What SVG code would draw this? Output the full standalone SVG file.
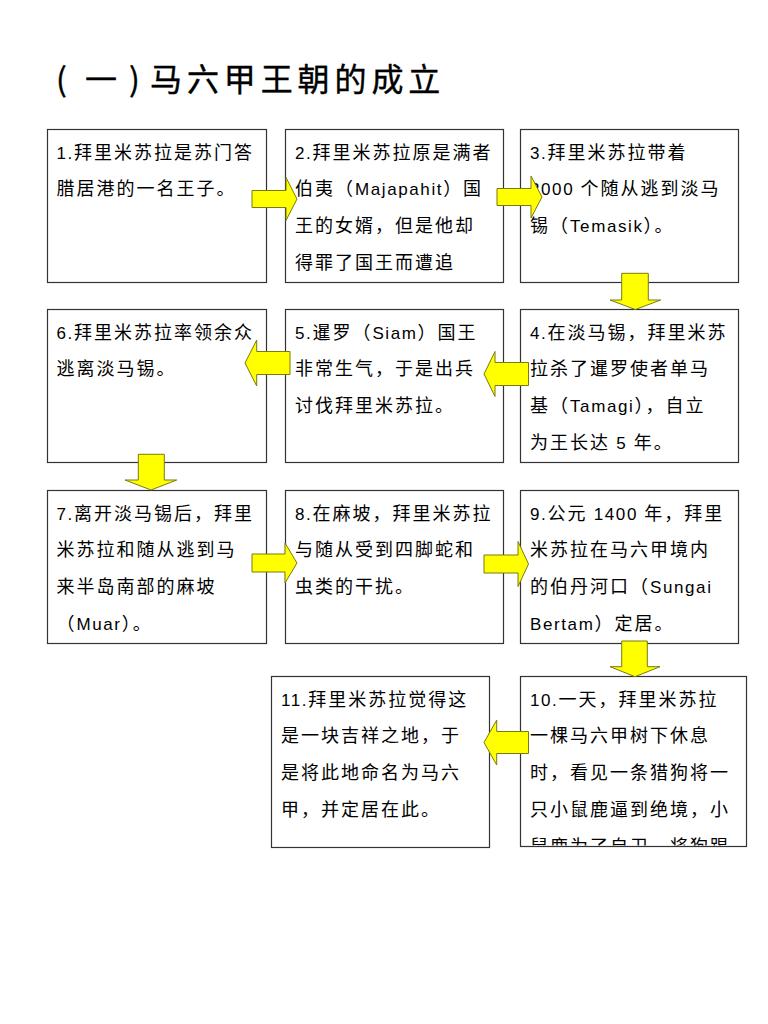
<svg xmlns="http://www.w3.org/2000/svg" width="768" height="1024" viewBox="0 0 768 1024">
<style>
.box{fill:#fff;stroke:#333;stroke-width:1.2}
.t{font-family:"Liberation Sans","Noto Sans CJK SC",sans-serif;font-size:18px;letter-spacing:2px;fill:#000}
.l{font-size:17px;letter-spacing:1.6px}
.arr{fill:#ffff00;stroke:#7a7a10;stroke-width:1}
.title{font-family:"Noto Sans CJK SC",sans-serif;font-size:32px;font-weight:400;fill:#000;stroke:#000;stroke-width:0.4}
</style>
<defs>
<clipPath id="clip10"><rect x="520.5" y="676.5" width="226" height="169"/></clipPath>
</defs>
<rect width="768" height="1024" fill="#fff"/>
<text class="title" x="56 85 129 150 186.9 223.8 260.7 297.6 334.5 371.4 408.3" y="91">(一)马六甲王朝的成立</text>

<g id="n1"><rect class="box" x="47.5" y="129.5" width="219" height="153"/>
<text class="t" x="56.5" y="158.5"><tspan class="l">1.</tspan>拜里米苏拉是苏门答</text>
<text class="t" x="56.5" y="195.2">腊居港的一名王子。</text></g>

<g id="n2"><rect class="box" x="285.5" y="129.5" width="218" height="153"/>
<text class="t" x="295" y="158.5"><tspan class="l">2.</tspan>拜里米苏拉原是满者</text>
<text class="t" x="295" y="195.2">伯夷（<tspan class="l">Majapahit</tspan>）国</text>
<text class="t" x="295" y="231.9">王的女婿，但是他却</text>
<text class="t" x="295" y="268.6">得罪了国王而遭追</text></g>

<g id="n3"><rect class="box" x="520.5" y="129.5" width="218" height="153"/>
<text class="t" x="530" y="158.5"><tspan class="l">3.</tspan>拜里米苏拉带着</text>
<text class="t" x="530" y="195.2"><tspan class="l">2000 </tspan>个随从逃到淡马</text>
<text class="t" x="530" y="231.9">锡（<tspan class="l">Temasik</tspan>）。</text></g>

<g id="n4"><rect class="box" x="520.5" y="309.5" width="218" height="153"/>
<text class="t" x="530" y="338.5"><tspan class="l">4.</tspan>在淡马锡，拜里米苏</text>
<text class="t" x="530" y="375.2">拉杀了暹罗使者单马</text>
<text class="t" x="530" y="411.9">基（<tspan class="l">Tamagi</tspan>），自立</text>
<text class="t" x="530" y="448.6">为王长达<tspan class="l"> 5 </tspan>年。</text></g>

<g id="n5"><rect class="box" x="285.5" y="309.5" width="218" height="153"/>
<text class="t" x="295" y="338.5"><tspan class="l">5.</tspan>暹罗（<tspan class="l">Siam</tspan>）国王</text>
<text class="t" x="295" y="375.2">非常生气，于是出兵</text>
<text class="t" x="295" y="411.9">讨伐拜里米苏拉。</text></g>

<g id="n6"><rect class="box" x="47.5" y="309.5" width="219" height="153"/>
<text class="t" x="56.5" y="338.5"><tspan class="l">6.</tspan>拜里米苏拉率领余众</text>
<text class="t" x="56.5" y="375.2">逃离淡马锡。</text></g>

<g id="n7"><rect class="box" x="47.5" y="490.5" width="219" height="153"/>
<text class="t" x="56.5" y="519.7"><tspan class="l">7.</tspan>离开淡马锡后，拜里</text>
<text class="t" x="56.5" y="556.4">米苏拉和随从逃到马</text>
<text class="t" x="56.5" y="593.1">来半岛南部的麻坡</text>
<text class="t" x="56.5" y="629.8">（<tspan class="l">Muar</tspan>）。</text></g>

<g id="n8"><rect class="box" x="285.5" y="490.5" width="218" height="153"/>
<text class="t" x="295" y="519.7"><tspan class="l">8.</tspan>在麻坡，拜里米苏拉</text>
<text class="t" x="295" y="556.4">与随从受到四脚蛇和</text>
<text class="t" x="295" y="593.1">虫类的干扰。</text></g>

<g id="n9"><rect class="box" x="520.5" y="490.5" width="218" height="153"/>
<text class="t" x="530" y="519.7"><tspan class="l">9.</tspan>公元<tspan class="l"> 1400 </tspan>年，拜里</text>
<text class="t" x="530" y="556.4">米苏拉在马六甲境内</text>
<text class="t" x="530" y="593.1">的伯丹河口（<tspan class="l">Sungai</tspan></text>
<text class="t" x="530" y="629.8"><tspan class="l">Bertam</tspan>）定居。</text></g>

<g id="n10"><rect class="box" x="520.5" y="676.5" width="226" height="170"/>
<g clip-path="url(#clip10)">
<text class="t" x="530" y="705.7"><tspan class="l">10.</tspan>一天，拜里米苏拉</text>
<text class="t" x="530" y="742.4">一棵马六甲树下休息</text>
<text class="t" x="530" y="779.1">时，看见一条猎狗将一</text>
<text class="t" x="530" y="815.8">只小鼠鹿逼到绝境，小</text>
<text class="t" x="530" y="852.5">鼠鹿为了自卫，将狗踢</text>
</g></g>

<g id="n11"><rect class="box" x="271.5" y="676.5" width="218" height="171"/>
<text class="t" x="281" y="705.7"><tspan class="l">11.</tspan>拜里米苏拉觉得这</text>
<text class="t" x="281" y="742.4">是一块吉祥之地，于</text>
<text class="t" x="281" y="779.1">是将此地命名为马六</text>
<text class="t" x="281" y="815.8">甲，并定居在此。</text></g>

<g id="connectors">
<polygon class="arr" points="252,190.5 286,190.5 286,177.5 297,199 286,220.5 286,207.5 252,207.5"/>
<polygon class="arr" points="497,188.5 531,188.5 531,176 542,197 531,218 531,205.5 497,205.5"/>
<polygon class="arr" points="621.7,273.3 648.3,273.3 648.3,300 660.7,300 635.3,309.5 610,300 621.7,300"/>
<polygon class="arr" points="528.5,362.5 495,362.5 495,351.5 484,374 495,396.5 495,385.5 528.5,385.5"/>
<polygon class="arr" points="290,351.5 256.7,351.5 256.7,340 245,363 256.7,386 256.7,374.5 290,374.5"/>
<polygon class="arr" points="138.3,454.3 164.3,454.3 164.3,480 176.7,480 151,490 125,480 138.3,480"/>
<polygon class="arr" points="252,554 285,554 285,543 297,563 285,583 285,572 252,572"/>
<polygon class="arr" points="484,555 518,555 518,541.5 528.5,564 518,586.5 518,573 484,573"/>
<polygon class="arr" points="621.7,641 647.3,641 647.3,666.7 660,666.7 635,676.7 610,666.7 621.7,666.7"/>
<polygon class="arr" points="528.5,731.5 496.7,731.5 496.7,720 484,742.5 496.7,765 496.7,753.5 528.5,753.5"/>
</g>
</svg>
